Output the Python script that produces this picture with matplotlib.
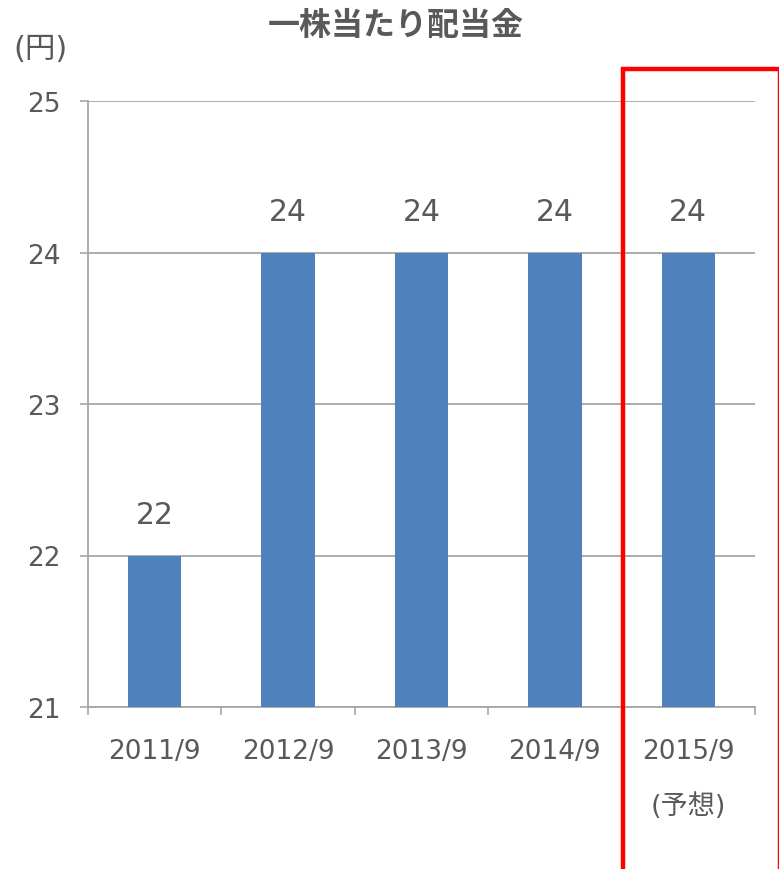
import matplotlib
matplotlib.use("Agg")
import matplotlib.pyplot as plt
from matplotlib.patches import Rectangle
from matplotlib.ticker import FixedLocator

plt.rcParams['font.family'] = ['DejaVu Sans', 'Noto Sans CJK JP']
CJK = ['Noto Sans CJK JP', 'DejaVu Sans']

title = "一株当たり配当金"
unit_label = "(円)"
categories = ["2011/9", "2012/9", "2013/9", "2014/9", "2015/9"]
forecast_note = "(予想)"
values = [22, 24, 24, 24, 24]
y_ticks = [21, 22, 23, 24, 25]

TEXT = "#595959"
GRID = "#A6A6A6"
BAR = "#4F81BD"

W, H = 779, 870
fig = plt.figure(figsize=(W / 100, H / 100), dpi=100)
ax = fig.add_axes([88 / W, 1 - 708 / H, (755 - 88) / W, (708 - 102) / H])

x = list(range(len(categories)))
bars = ax.bar(x, values, width=0.40, color=BAR, zorder=3)

ax.set_ylim(y_ticks[0], y_ticks[-1])
ax.set_xlim(-0.5, len(categories) - 0.5)
ax.set_yticks(y_ticks)
ax.set_yticklabels([str(t) for t in y_ticks], fontsize=19, color=TEXT)
ax.yaxis.grid(True, color=GRID, linewidth=1.3, zorder=0)
ax.tick_params(axis='y', length=6, width=1.2, color=GRID, pad=14)

ax.set_xticks(x)
ax.set_xticklabels(categories, fontsize=19, color=TEXT)
ax.tick_params(axis='x', which='major', length=0, pad=22)
ax.xaxis.set_minor_locator(FixedLocator([i - 0.5 for i in range(len(categories) + 1)]))
ax.tick_params(axis='x', which='minor', length=6, width=1.2, color=GRID)

for s in ['top', 'right']:
    ax.spines[s].set_visible(False)
for s in ['left', 'bottom']:
    ax.spines[s].set_color(GRID)
    ax.spines[s].set_linewidth(1.3)

for xi, v in zip(x, values):
    ax.annotate(str(v), (xi, v), xytext=(0, 19), textcoords='offset points',
                ha='center', va='bottom', fontsize=21.5, color=TEXT)

ax.annotate(forecast_note, (x[-1], y_ticks[0]), xytext=(0, -71), textcoords='offset points',
            ha='center', va='center', fontsize=19.5, color=TEXT, annotation_clip=False,
            family=['DejaVu Sans', 'Noto Sans CJK JP'])

fig.text(396 / W, 1 - 26 / H, title, ha='center', va='center', fontsize=23,
         fontweight='bold', color=TEXT, family=CJK)
fig.text(41 / W, 1 - 50 / H, unit_label, ha='center', va='center', fontsize=22, color=TEXT)

rect = Rectangle((623 / W, 1 - 872 / H), (780 - 623) / W, (872 - 70) / H,
                 transform=fig.transFigure, fill=False, edgecolor='#FF0000',
                 linewidth=3.2, clip_on=False)
fig.patches.append(rect)

fig.savefig("out.png", dpi=100)
